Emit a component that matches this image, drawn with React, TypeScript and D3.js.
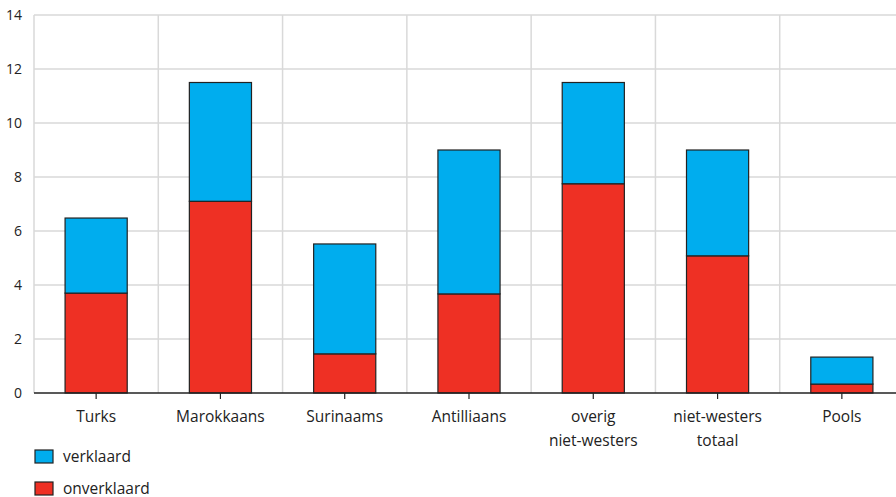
import React from "react";
import * as d3 from "d3";

const categories: string[][] = [
  ["Turks"],
  ["Marokkaans"],
  ["Surinaams"],
  ["Antilliaans"],
  ["overig", "niet-westers"],
  ["niet-westers", "totaal"],
  ["Pools"],
];
const onverklaard = [3.7, 7.1, 1.45, 3.67, 7.75, 5.08, 0.33];
const verklaard = [2.78, 4.4, 4.07, 5.33, 3.75, 3.92, 1.0];
const yTicks = [0, 2, 4, 6, 8, 10, 12, 14];
const seriesNames = ["verklaard", "onverklaard"];

const W = 896;
const H = 497;
const margin = { left: 34, top: 15, right: -8, bottom: 104 };
const BLUE = "#00adee";
const RED = "#ee3024";
const FONT = "'Open Sans', 'Noto Sans', sans-serif";

export default function App() {
  const x = d3
    .scaleBand<number>()
    .domain(categories.map((_, i) => i))
    .range([margin.left, W - margin.right])
    .paddingInner(0.5)
    .paddingOuter(0.25);
  const y = d3.scaleLinear().domain([0, 14]).range([H - margin.bottom, margin.top]);
  const step = x.step();
  const x0 = margin.left;
  const x1 = W - margin.right;

  return (
    <svg
      width={W}
      height={H}
      style={{ position: "absolute", left: 0, top: 0, fontFamily: FONT }}
    >
      <rect width={W} height={H} fill="#fff" />
      {yTicks.map((t) =>
        t === 0 ? null : (
          <line key={"h" + t} x1={x0} x2={x1} y1={y(t)} y2={y(t)} stroke="#d9d9d9" strokeWidth={1.5} />
        )
      )}
      {categories.map((_, i) => (
        <line
          key={"v" + i}
          x1={x0 + i * step}
          x2={x0 + i * step}
          y1={y(14)}
          y2={y(0)}
          stroke="#d9d9d9"
          strokeWidth={1.5}
        />
      ))}
      {yTicks.map((t) => (
        <text key={"yt" + t} x={22} y={y(t)} dy="0.35em" textAnchor="end" fontSize={14} fill="#222">
          {t}
        </text>
      ))}
      {categories.map((_, i) => {
        const bx = x(i)!;
        const bw = x.bandwidth();
        const r = onverklaard[i];
        const b = verklaard[i];
        return (
          <g key={"b" + i}>
            <rect x={bx} y={y(r)} width={bw} height={y(0) - y(r)} fill={RED} stroke="#222" strokeWidth={1.2} />
            <rect x={bx} y={y(r + b)} width={bw} height={y(r) - y(r + b)} fill={BLUE} stroke="#222" strokeWidth={1.2} />
          </g>
        );
      })}
      <line x1={x0} x2={x1} y1={y(0)} y2={y(0)} stroke="#222" strokeWidth={1.5} />
      {categories.map((lines, i) => {
        const cx = x(i)! + x.bandwidth() / 2;
        return (
          <g key={"xl" + i}>
            <line x1={cx} x2={cx} y1={y(0)} y2={y(0) + 6} stroke="#222" strokeWidth={1.2} />
            {lines.map((l, j) => (
              <text key={j} x={cx} y={y(0) + 29 + j * 24} textAnchor="middle" fontSize={15.5} fill="#222">
                {l}
              </text>
            ))}
          </g>
        );
      })}
      {seriesNames.map((s, i) => (
        <g key={"lg" + s} transform={`translate(35, ${450 + i * 32})`}>
          <rect x={0} y={0} width={18} height={13} fill={i === 0 ? BLUE : RED} stroke="#222" strokeWidth={1.2} />
          <text x={28} y={6.5} dy="0.35em" fontSize={15.5} fill="#222">
            {s}
          </text>
        </g>
      ))}
    </svg>
  );
}
